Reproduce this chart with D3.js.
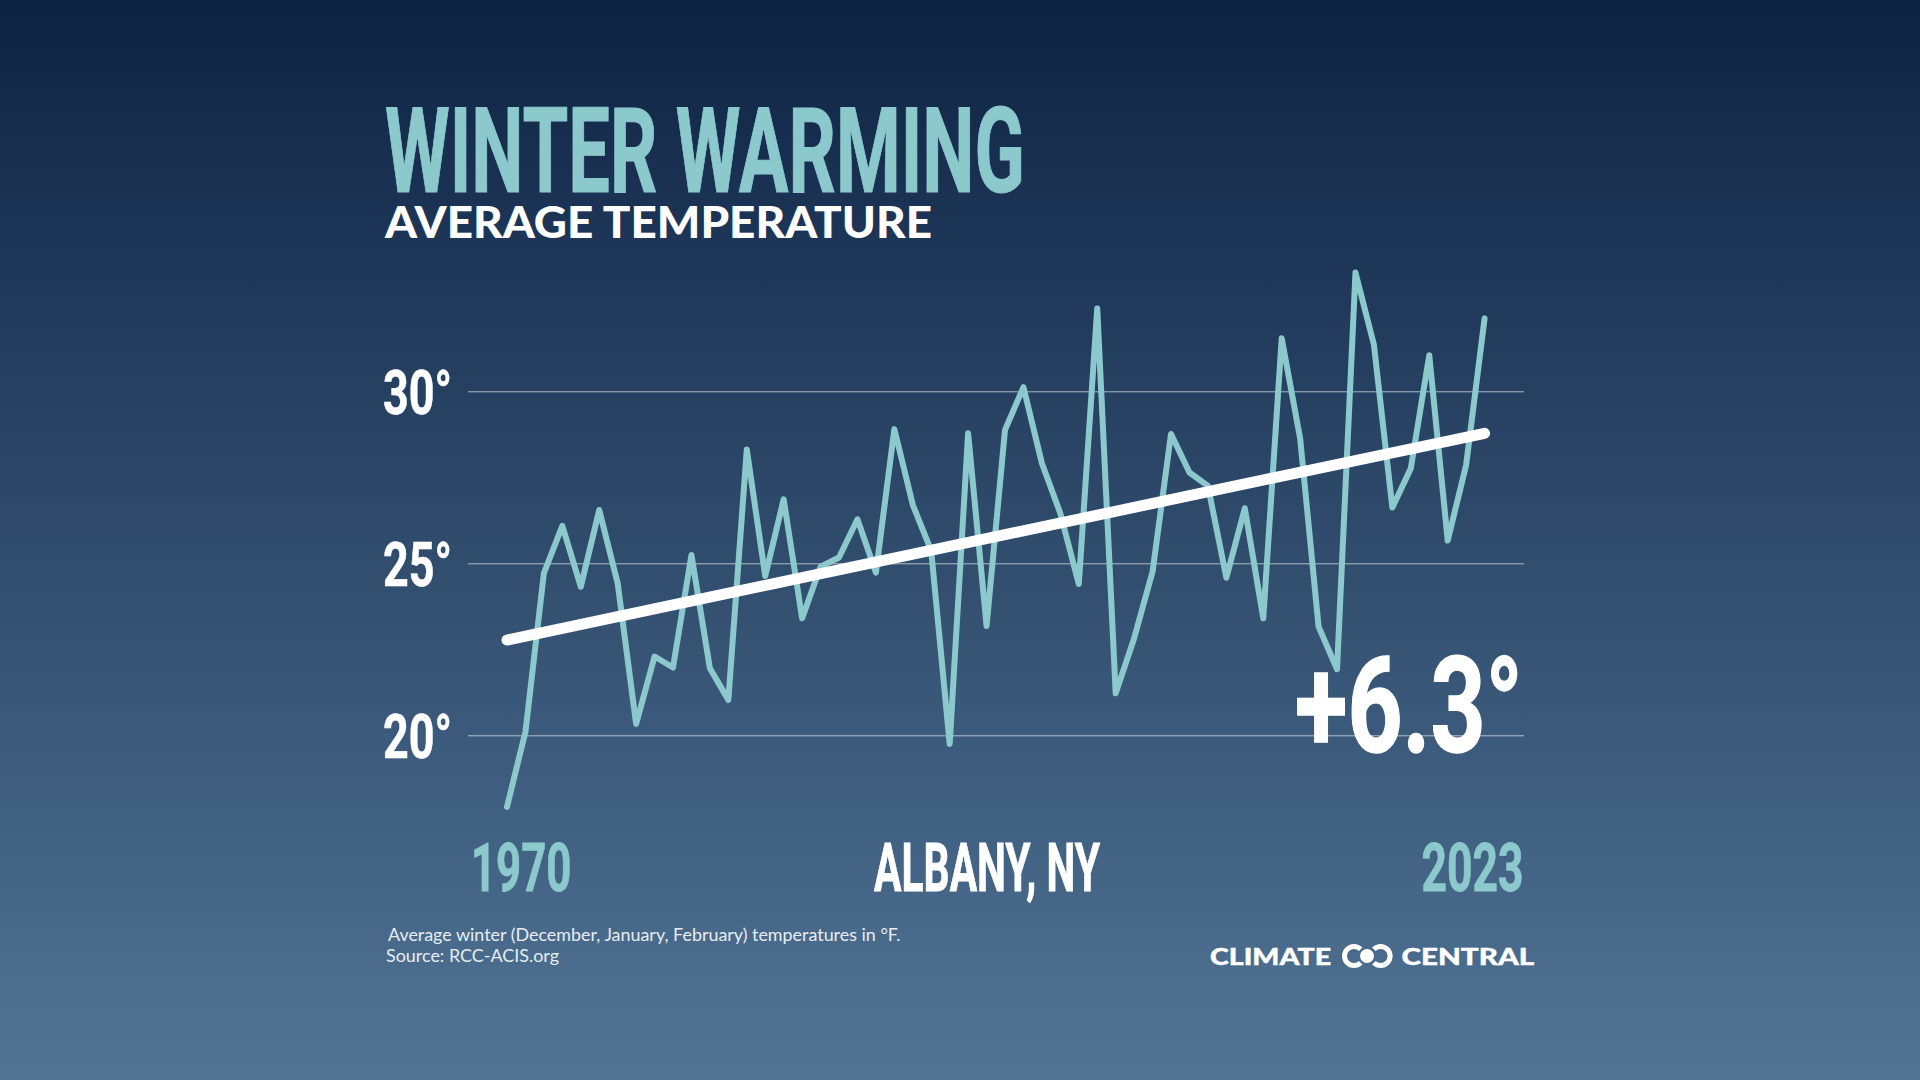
<!DOCTYPE html>
<html>
<head>
<meta charset="utf-8">
<script src="https://cdnjs.cloudflare.com/ajax/libs/d3/7.8.5/d3.min.js"></script>
<style>
html,body{margin:0;padding:0;width:1920px;height:1080px;overflow:hidden;background:#0f2445}
svg{display:block}
</style>
</head>
<body>
<svg id="chart" width="1920" height="1080"></svg>
<script>
const startYear = 1970;
const temps = [17.92,20.1,24.71,26.09,24.32,26.55,24.42,20.33,22.29,21.97,
  25.24,21.95,21.03,28.31,24.63,26.86,23.4,24.9,25.17,26.28,
  24.73,28.9,26.7,25.36,19.75,28.78,23.18,28.88,30.12,27.91,
  26.45,24.4,32.41,21.22,22.82,24.76,28.76,27.64,27.25,24.58,
  26.6,23.4,31.54,28.63,23.16,21.92,33.45,31.35,26.62,27.76,
  31.05,25.66,27.86,32.12];
const trendYears = [1970,2023];
const trendValues = [22.77,28.78];
const yTicks = [20,25,30];
const titleText = "WINTER WARMING";
const subtitleText = "AVERAGE TEMPERATURE";
const changeText = "+6.3°";
const placeText = "ALBANY, NY";
const yearLabels = ["1970","2023"];
const noteLines = ["Average winter (December, January, February) temperatures in °F.","Source: RCC-ACIS.org"];
const logoWords = ["CLIMATE","CENTRAL"];

const TEAL = "#8bc9cc", WHITE = "#ffffff";
const COND = "'Liberation Sans Narrow','Roboto','Liberation Sans',sans-serif";
const HUM = "Lato,'Open Sans',sans-serif";

const svg = d3.select("#chart");
const defs = svg.append("defs");
const grad = defs.append("linearGradient").attr("id","bg").attr("x1",0).attr("y1",0).attr("x2",0).attr("y2",1);
grad.append("stop").attr("offset","0%").attr("stop-color","#0e2344");
grad.append("stop").attr("offset","100%").attr("stop-color","#517495");
svg.append("rect").attr("width",1920).attr("height",1080).attr("fill","url(#bg)");

const x = d3.scaleLinear().domain([1970,2023]).range([507,1484.6]);
const y = d3.scaleLinear().domain([20,30]).range([735.3,391.3]);

const ctx = document.createElement("canvas").getContext("2d");
function fit(sel, o){
  const {x0,x1,base,cap,family,weight,fill,thick=0} = o;
  ctx.font = `${weight} 100px ${family}`;
  const capRatio = ctx.measureText("H").actualBoundingBoxAscent/100;
  const size = cap/capRatio;
  sel.attr("x",0).attr("y",0).attr("dy",null)
     .attr("text-anchor","start")
     .style("font-family",family).style("font-weight",weight).style("font-size",size+"px")
     .attr("fill",fill);
  const w = sel.node().getComputedTextLength();
  sel.attr("transform",`translate(${x0},${base}) scale(${(x1-x0)/w},1)`);
  if(thick) sel.attr("stroke",fill).attr("stroke-width",thick).attr("paint-order","stroke");
}

// grid and y axis labels
const axis = d3.axisLeft(y).tickValues(yTicks).tickSizeInner(468-1524).tickSizeOuter(0).tickFormat(d=>d+"°");
const gAxis = svg.append("g").attr("transform","translate(468,0)").call(axis);
gAxis.select(".domain").remove();
gAxis.selectAll(".tick line").attr("stroke","#ffffff").attr("stroke-opacity",0.62).attr("stroke-width",1);
gAxis.selectAll(".tick text").each(function(){
  fit(d3.select(this),{x0:383-468,x1:452-468,base:22,cap:44,family:COND,weight:700,fill:WHITE,thick:0.6});
});

// series
const rows = temps.map((v,i)=>({year:startYear+i,v}));
const line = d3.line().x(d=>x(d.year)).y(d=>y(d.v)).curve(d3.curveLinear);
svg.append("path").datum(rows).attr("d",line).attr("fill","none")
   .attr("stroke",TEAL).attr("stroke-width",6).attr("stroke-linejoin","round").attr("stroke-linecap","round");
const trendRows = trendYears.map((yr,i)=>({year:yr,v:trendValues[i]}));
svg.append("path").datum(trendRows).attr("d",line).attr("fill","none")
   .attr("stroke",WHITE).attr("stroke-width",11).attr("stroke-linecap","round");

// titles
fit(svg.append("text").text(titleText),{x0:385,x1:1025,base:192,cap:85,family:COND,weight:700,fill:TEAL,thick:1});
fit(svg.append("text").text(subtitleText),{x0:385,x1:932,base:238,cap:31.5,family:HUM,weight:900,fill:WHITE});
fit(svg.append("text").text(changeText),{x0:1295,x1:1523,base:752,cap:96,family:COND,weight:700,fill:WHITE,thick:1.5});
fit(svg.append("text").text(yearLabels[0]),{x0:471,x1:571.5,base:891,cap:48,family:COND,weight:700,fill:TEAL,thick:0.8});
fit(svg.append("text").text(placeText),{x0:874,x1:1100,base:891,cap:48,family:COND,weight:700,fill:WHITE,thick:0.8});
fit(svg.append("text").text(yearLabels[1]),{x0:1421.5,x1:1523.5,base:891,cap:48,family:COND,weight:700,fill:TEAL,thick:0.8});

// notes
fit(svg.append("text").text(noteLines[0]),{x0:388,x1:900.5,base:940.5,cap:12.2,family:HUM,weight:400,fill:"#e6edf2"});
fit(svg.append("text").text(noteLines[1]),{x0:386,x1:559,base:961.5,cap:12.2,family:HUM,weight:400,fill:"#e6edf2"});

// logo
fit(svg.append("text").text(logoWords[0]),{x0:1210,x1:1331,base:965,cap:17,family:HUM,weight:900,fill:WHITE,thick:0.4});
fit(svg.append("text").text(logoWords[1]),{x0:1401.5,x1:1534,base:965,cap:17,family:HUM,weight:900,fill:WHITE,thick:0.4});
const logo = svg.append("g").attr("transform","translate(1367,956)");
const ringArc = d3.arc().innerRadius(7).outerRadius(12);
logo.append("path").attr("transform","translate(-13,0)").attr("fill",WHITE)
    .attr("d",ringArc({startAngle:Math.PI*0.75,endAngle:Math.PI*2.25}));
logo.append("path").attr("transform","translate(13.6,0)").attr("fill",WHITE)
    .attr("d",ringArc({startAngle:-Math.PI*0.25,endAngle:Math.PI*1.25}));
logo.append("circle").attr("r",7).attr("fill",WHITE);
</script>
</body>
</html>
